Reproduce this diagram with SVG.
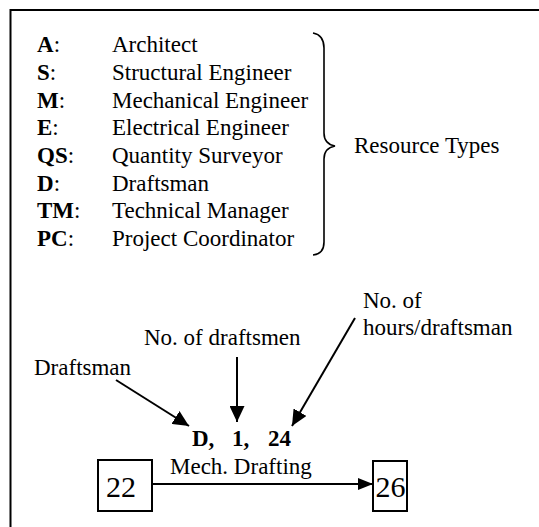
<svg xmlns="http://www.w3.org/2000/svg" width="539" height="527" viewBox="0 0 539 527">
<defs>
<style>
text{font-family:"Liberation Serif","Times New Roman",serif;font-size:23px;fill:#000}
.b{font-weight:bold}
.ln{stroke:#000;stroke-width:2;fill:none}
.box{stroke:#000;stroke-width:2;fill:#fff}
.num{font-size:30px}
</style>
<marker id="ah" viewBox="0 0 10 10" refX="10" refY="5" markerWidth="8" markerHeight="7.5" markerUnits="strokeWidth" orient="auto" preserveAspectRatio="none">
<path d="M0,0 L10,5 L0,10 z" fill="#000"/>
</marker>
<marker id="ah2" viewBox="0 0 10 10" refX="10" refY="5" markerWidth="7.5" markerHeight="6" markerUnits="strokeWidth" orient="auto" preserveAspectRatio="none">
<path d="M0,0 L10,5 L0,10 z" fill="#000"/>
</marker>
</defs>
<rect width="539" height="527" fill="#fff"/>
<path class="ln" d="M10.5,540 V10 H545"/>
<g id="legend">
<text x="37" y="52"><tspan class="b">A</tspan>:</text><text x="112" y="52">Architect</text>
<text x="37" y="80"><tspan class="b">S</tspan>:</text><text x="112" y="80">Structural Engineer</text>
<text x="37" y="108"><tspan class="b">M</tspan>:</text><text x="112" y="108">Mechanical Engineer</text>
<text x="37" y="135"><tspan class="b">E</tspan>:</text><text x="112" y="135">Electrical Engineer</text>
<text x="37" y="163"><tspan class="b">QS</tspan>:</text><text x="112" y="163">Quantity Surveyor</text>
<text x="37" y="191"><tspan class="b">D</tspan>:</text><text x="112" y="191">Draftsman</text>
<text x="37" y="218"><tspan class="b">TM</tspan>:</text><text x="112" y="218">Technical Manager</text>
<text x="37" y="246"><tspan class="b">PC</tspan>:</text><text x="112" y="246">Project Coordinator</text>
</g>
<g id="brace">
<path d="M313,33 Q324,35 324,48 V133 Q324,144 335,146 Q324,148 324,159 V242 Q324,254 313,255" stroke="#000" stroke-width="1.6" fill="none"/>
<text x="354" y="153">Resource Types</text>
</g>
<g id="node-22">
<rect class="box" x="98" y="460" width="54" height="51"/>
<text class="num" x="106" y="497">22</text>
</g>
<g id="node-26">
<rect class="box" x="373" y="461" width="34" height="50"/>
<text class="num" x="375.5" y="497">26</text>
</g>
<g id="labels">
<text x="34" y="375">Draftsman</text>
<text x="144" y="345">No. of draftsmen</text>
<text x="363" y="308">No. of</text>
<text x="363" y="335">hours/draftsman</text>
<text class="b" y="446"><tspan x="192">D,</tspan><tspan x="232">1,</tspan><tspan x="268">24</tspan></text>
<text x="170" y="474">Mech. Drafting</text>
</g>
<g id="connectors">
<line class="ln" x1="116" y1="380" x2="189" y2="426" marker-end="url(#ah)"/>
<line class="ln" x1="237" y1="357" x2="237" y2="422" marker-end="url(#ah)"/>
<line class="ln" x1="355" y1="318" x2="292" y2="426" marker-end="url(#ah)"/>
<line class="ln" x1="152" y1="484" x2="373" y2="484" marker-end="url(#ah2)"/>
</g>
</svg>
